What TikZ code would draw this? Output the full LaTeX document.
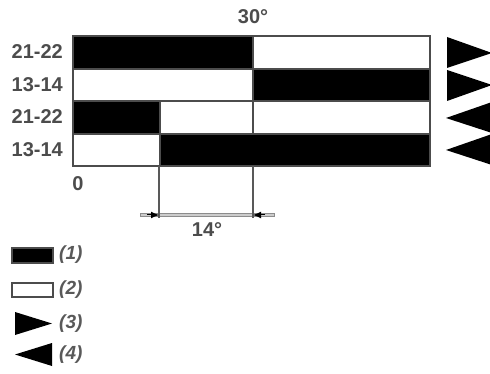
\documentclass[tikz,border=0pt]{standalone}
\usepackage{fontspec}
\setmainfont{Liberation Sans}
\usepackage{tikz}
\usetikzlibrary{arrows.meta,positioning,calc}

\begin{document}
\begin{tikzpicture}[x=1pt,y=-1pt,
  lbl/.style={font=\fontsize{20}{22}\selectfont\bfseries, text=black!70, inner sep=0pt},
  key/.style={font=\fontsize{19}{21}\selectfont\bfseries\itshape, text=black!65, inner sep=0pt, anchor=west},
  cellon/.style={fill=black, draw=black!70, line width=1.2pt},
  celloff/.style={fill=white, draw=black!70, line width=1.2pt},
  tri/.style={fill=black},
  guide/.style={draw=black!65, line width=1.1pt},
  dimline/.style={draw=black!45, line width=4pt},
  dimcore/.style={draw=black!20, line width=2.2pt},
  dimtip/.style={-{Latex[length=8pt,width=7pt]}, line width=1pt}
]
  \useasboundingbox (0,0) rectangle (490,374);

  % bars
  \draw[cellon]  (73,36)  rectangle (253,69);
  \draw[celloff] (253,36) rectangle (430,69);
  \draw[celloff] (73,69)  rectangle (253,101);
  \draw[cellon]  (253,69) rectangle (430,101);
  \draw[cellon]  (73,101) rectangle (160,134);
  \draw[celloff] (160,101) rectangle (253,134);
  \draw[celloff] (253,101) rectangle (430,134);
  \draw[celloff] (73,134) rectangle (160,166);
  \draw[cellon]  (160,134) rectangle (430,166);
  \draw[draw=black!70, line width=1.2pt] (73,36) rectangle (430,166);

  % row labels
  \node[lbl, anchor=east] (row1) at (63,52)  {21-22};
  \node[lbl, anchor=east] (row2) at (63,85)  {13-14};
  \node[lbl, anchor=east] (row3) at (63,117) {21-22};
  \node[lbl, anchor=east] (row4) at (63,150) {13-14};
  \node[lbl] (top) at (253,17) {30°};
  \node[lbl] (zero) at (78,184) {0};

  % direction marks
  \fill[tri] (447,37)  -- (492,53)  -- (447,68)  -- cycle;
  \fill[tri] (447,70)  -- (492,85)  -- (447,101) -- cycle;
  \fill[tri] (492,102) -- (446,118) -- (492,133) -- cycle;
  \fill[tri] (492,134) -- (446,150) -- (492,165) -- cycle;

  % dimension
  \coordinate (a) at (159,166);
  \coordinate (b) at (253,166);
  \coordinate (da) at (159,215);
  \coordinate (db) at (253,215);
  \draw[dimline] ($(da)+(-19,0)$) -- ($(db)+(22,0)$);
  \draw[dimcore] ($(da)+(-18,0)$) -- ($(db)+(21,0)$);
  \draw[guide] (a) -- ($(da)+(0,3)$);
  \draw[guide] (b) -- ($(db)+(0,3)$);
  \draw[dimtip] ($(da)+(-12,0)$) -- (da);
  \draw[dimtip] ($(db)+(12,0)$) -- (db);
  \node[lbl] (dim) at (207,230) {14°};

  % legend
  \draw[cellon]  (12,248) rectangle (53,263);
  \node[key] (k1) at (59,255) {(1)};
  \draw[celloff] (12,283) rectangle (53,297);
  \node[key] (k2) at (59,290) {(2)};
  \fill[tri] (15,312) -- (52,323.5) -- (15,335) -- cycle;
  \node[key] (k3) at (59,324) {(3)};
  \fill[tri] (52,343) -- (15,354.5) -- (52,366) -- cycle;
  \node[key] (k4) at (59,355) {(4)};
\end{tikzpicture}
\end{document}
